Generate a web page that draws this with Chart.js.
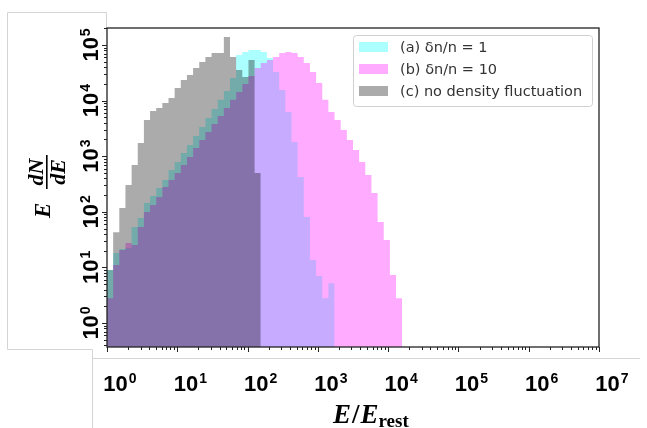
<!DOCTYPE html>
<html>
<head>
<meta charset="utf-8">
<script src="https://cdn.jsdelivr.net/npm/chart.js@4"></script>
<style>
  html, body { margin: 0; padding: 0; background: #fff; }
  canvas { display: block; }
</style>
</head>
<body>
<canvas id="chart" width="647" height="428"></canvas>
<script>
// log-spaced histogram bins, 80 bins from 10^0 to 10^7
const nBins = 80;
const binEdges = [];
for (let k = 0; k <= nBins; k++) binEdges.push(Math.pow(10, 7 * k / nBins));

// E dN/dE per bin, starting at the first bin
const countsA = [9.0, 18.2, 21.4, 22.3, 53, 77, 144, 192, 268, 373,
  565, 787, 1140, 1590, 2310, 3350, 4860, 7060, 10300, 14900,
  25500, 66100, 74800, 81300, 81300, 74800, 58400, 32700, 15500, 6240,
  1800, 423, 80.6, 13.6, 7.0, 2.8, 5.2];
const countsB = [2.8, 11.0, 20.6, 27.5, 25.3, 53, 99, 133, 185, 279,
  373, 499, 695, 968, 1400, 1960, 2720, 3800, 5290, 7360,
  10300, 14300, 19900, 27700, 38600, 47500, 53700, 60800, 71800, 74800,
  71800, 60800, 47500, 32700, 20700, 10300, 6240, 4480, 2960, 1960,
  1290, 787, 459, 218, 65.6, 31.1, 7.3, 2.8];
const countsC = [9.0, 43, 117, 303, 695, 1730, 4480, 6500, 7360, 9050,
  11100, 16900, 23500, 28900, 38600, 49400, 60800, 71800, 71800, 139000,
  60800, 35500, 26600, 53700, 499];

const seriesLabels = ['(a) δn/n = 1', '(b) δn/n = 10', '(c) no density fluctuation'];
const seriesColors = ['rgba(0,255,255,0.33)', 'rgba(255,0,255,0.33)', 'rgba(0,0,0,0.33)'];

const xTickExps = [0, 1, 2, 3, 4, 5, 6, 7];
const yTickExps = [0, 1, 2, 3, 4, 5];

const xMin = 1, xMax = 1e7;
const yMin = 0.37, yMax = 2.02e5;

function stepPoints(counts) {
  const pts = counts.map((v, i) => ({ x: binEdges[i], y: v }));
  pts.push({ x: binEdges[counts.length], y: 0.01 });
  return pts;
}

function logTicks(lo, hi) {
  const t = [];
  for (let e = Math.floor(Math.log10(lo)); e <= Math.ceil(Math.log10(hi)); e++) {
    for (let m = 1; m < 10; m++) {
      const v = m * Math.pow(10, e);
      if (v >= lo * 0.999 && v <= hi * 1.001) t.push({ value: v, major: m === 1 });
    }
  }
  return t;
}

const NUM_FONT = '"Liberation Sans", Arial, sans-serif';
const SERIF = '"Liberation Serif", "Times New Roman", serif';

// "10" with a raised exponent, centred on cx
function drawPow(ctx, exp, cx, baseY) {
  ctx.font = 'bold 22px ' + NUM_FONT;
  const w1 = ctx.measureText('10').width;
  ctx.font = 'bold 14px ' + NUM_FONT;
  const w2 = ctx.measureText(String(exp)).width;
  const x0 = cx - (w1 + w2 + 1) / 2;
  ctx.textAlign = 'left';
  ctx.textBaseline = 'alphabetic';
  ctx.font = 'bold 22px ' + NUM_FONT;
  ctx.fillText('10', x0, baseY);
  ctx.font = 'bold 14px ' + NUM_FONT;
  ctx.fillText(String(exp), x0 + w1 + 1, baseY - 8);
}

const decorPlugin = {
  id: 'decor',
  afterDraw(chart) {
    const ctx = chart.ctx;
    const a = chart.chartArea;
    const xs = chart.scales.x, ys = chart.scales.y;
    ctx.save();

    // light picture borders
    ctx.strokeStyle = '#d4d4d4';
    ctx.lineWidth = 1;
    ctx.beginPath();
    ctx.moveTo(106.5, 12.5); ctx.lineTo(7.5, 12.5); ctx.lineTo(7.5, 349.5);
    ctx.lineTo(92.5, 349.5); ctx.lineTo(92.5, 428);
    ctx.moveTo(106.5, 12.5); ctx.lineTo(106.5, 28);
    ctx.moveTo(92.5, 358.5); ctx.lineTo(640, 358.5);
    ctx.stroke();

    // plot frame
    ctx.strokeStyle = '#222';
    ctx.lineWidth = 1.3;
    ctx.strokeRect(a.left, a.top, a.right - a.left, a.bottom - a.top);

    // tick marks
    ctx.lineWidth = 1;
    ctx.beginPath();
    xs.ticks.forEach(t => {
      const px = Math.round(xs.getPixelForValue(t.value)) + 0.5;
      ctx.moveTo(px, a.bottom);
      ctx.lineTo(px, a.bottom + (t.major ? 5 : 3));
    });
    ys.ticks.forEach(t => {
      const py = Math.round(ys.getPixelForValue(t.value)) + 0.5;
      ctx.moveTo(a.left, py);
      ctx.lineTo(a.left - (t.major ? 5 : 3), py);
    });
    ctx.stroke();

    // tick labels
    ctx.fillStyle = '#000';
    xTickExps.forEach(e => {
      const px = xs.getPixelForValue(Math.pow(10, e));
      drawPow(ctx, e, px + 13, 391);
    });
    yTickExps.forEach(e => {
      const py = ys.getPixelForValue(Math.pow(10, e));
      ctx.save();
      ctx.translate(98, py);
      ctx.rotate(-Math.PI / 2);
      drawPow(ctx, e, 0, 0);
      ctx.restore();
    });

    // x title: E/E_rest
    ctx.textAlign = 'left';
    ctx.textBaseline = 'alphabetic';
    let x = 333;
    ctx.font = 'bold italic 27px ' + SERIF;
    ctx.fillText('E', x, 423); x += ctx.measureText('E').width + 1;
    ctx.font = 'bold 27px ' + SERIF;
    ctx.fillText('/', x, 423); x += ctx.measureText('/').width + 1;
    ctx.font = 'bold italic 27px ' + SERIF;
    ctx.fillText('E', x, 423); x += ctx.measureText('E').width;
    ctx.font = 'bold 19px ' + SERIF;
    ctx.fillText('rest', x, 427);

    // y title: E dN/dE
    ctx.save();
    ctx.translate(47, 185);
    ctx.rotate(-Math.PI / 2);
    ctx.font = 'bold italic 23px ' + SERIF;
    ctx.textAlign = 'left';
    ctx.fillText('E', -33, 3);
    ctx.font = 'bold italic 22px ' + SERIF;
    ctx.textAlign = 'center';
    ctx.fillText('dN', 13, -4);
    ctx.fillText('dE', 13, 18);
    ctx.fillRect(-4, -1, 34, 1.6);
    ctx.restore();

    // legend
    const lx = 353.5, ly = 35.5, lw = 239, lh = 71;
    ctx.fillStyle = 'rgba(255,255,255,0.8)';
    ctx.strokeStyle = '#d0d0d0';
    ctx.beginPath();
    ctx.roundRect(lx, ly, lw, lh, 3);
    ctx.fill();
    ctx.stroke();
    ctx.font = '14.5px "DejaVu Sans", sans-serif';
    ctx.textAlign = 'left';
    ctx.textBaseline = 'middle';
    seriesLabels.forEach((lab, i) => {
      const cy = 47 + i * 22;
      ctx.fillStyle = seriesColors[i];
      ctx.fillRect(359, cy - 5, 29, 10);
      ctx.fillStyle = '#333';
      ctx.fillText(lab, 400, cy + 1);
    });

    ctx.restore();
  }
};

const datasets = [countsA, countsB, countsC].map((c, i) => ({
  label: seriesLabels[i],
  data: stepPoints(c),
  stepped: true,
  fill: 'start',
  backgroundColor: seriesColors[i],
  borderColor: 'rgba(0,0,0,0)',
  borderWidth: 0,
  pointRadius: 0,
  order: 3 - i
}));

new Chart(document.getElementById('chart').getContext('2d'), {
  type: 'line',
  data: { datasets: datasets },
  options: {
    responsive: false,
    animation: false,
    events: [],
    layout: { padding: { left: 107, top: 28, right: 48, bottom: 81 } },
    scales: {
      x: {
        type: 'logarithmic', min: xMin, max: xMax,
        ticks: { display: false }, grid: { display: false }, border: { display: false },
        afterBuildTicks: s => { s.ticks = logTicks(xMin, xMax); },
        afterFit: s => { s.height = 0; }
      },
      y: {
        type: 'logarithmic', min: yMin, max: yMax,
        ticks: { display: false }, grid: { display: false }, border: { display: false },
        afterBuildTicks: s => { s.ticks = logTicks(yMin, yMax); },
        afterFit: s => { s.width = 0; }
      }
    },
    plugins: { legend: { display: false }, tooltip: { enabled: false } }
  },
  plugins: [decorPlugin]
});
</script>
</body>
</html>
